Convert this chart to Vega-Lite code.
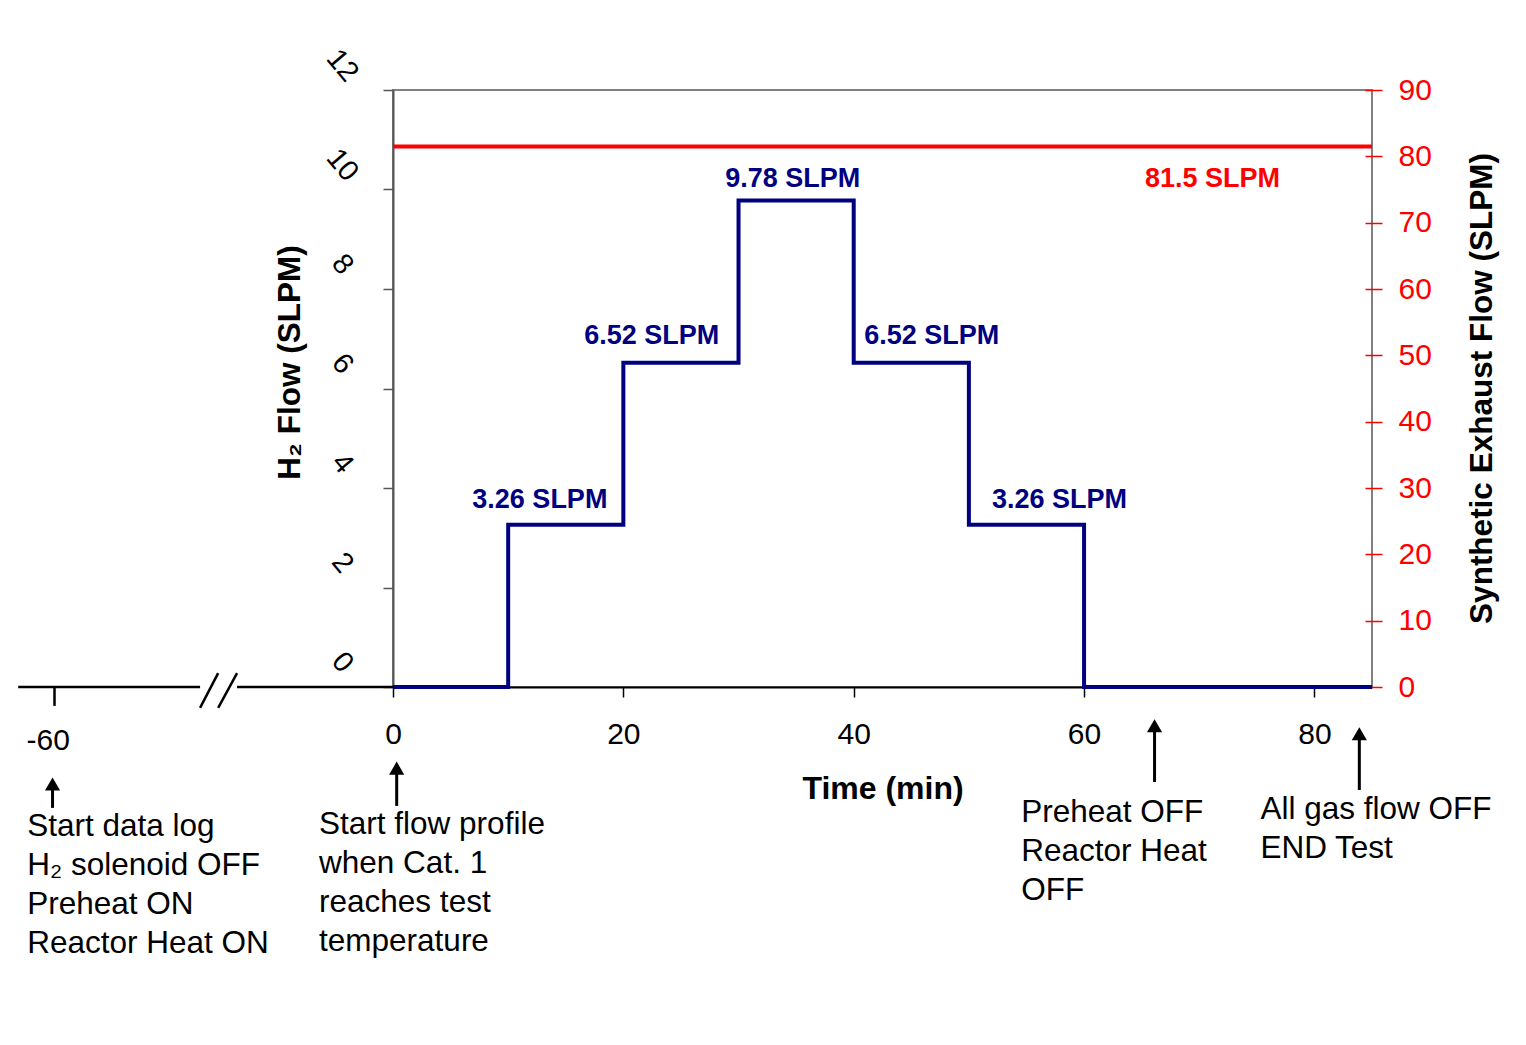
{
  "$schema": "https://vega.github.io/schema/vega-lite/v6.json",
  "width": 979,
  "height": 597,
  "autosize": {"type": "none"},
  "padding": {"left": 393, "top": 90, "right": 154, "bottom": 358},
  "background": "white",
  "config": {
    "font": "Liberation Sans",
    "view": {"stroke": "#808080", "strokeWidth": 2},
    "axis": {"grid": false, "labelFont": "Liberation Sans", "titleFont": "Liberation Sans", "labelOverlap": false, "labelBound": false, "labelFlush": false}
  },
  "datasets": {
    "h2": [
      {"t": 0, "h2": 0}, {"t": 10, "h2": 3.26}, {"t": 20, "h2": 6.52}, {"t": 30, "h2": 9.78},
      {"t": 40, "h2": 6.52}, {"t": 50, "h2": 3.26}, {"t": 60, "h2": 0}, {"t": 85, "h2": 0}
    ],
    "exhaust": [{"t": 0, "exhaust": 81.5}, {"t": 85, "exhaust": 81.5}],
    "blueLabels": [
      {"t": 12.75, "h2": 3.76, "label": "3.26 SLPM"},
      {"t": 22.47, "h2": 7.06, "label": "6.52 SLPM"},
      {"t": 34.71, "h2": 10.21, "label": "9.78 SLPM"},
      {"t": 46.77, "h2": 7.06, "label": "6.52 SLPM"},
      {"t": 57.87, "h2": 3.76, "label": "3.26 SLPM"}
    ],
    "redLabels": [{"t": 71.15, "h2": 10.21, "label": "81.5 SLPM"}],
    "axisExt": [
      {"t": -32.54, "t2": -16.75, "h2": 0, "h2b": 0},
      {"t": -13.54, "t2": 0, "h2": 0, "h2b": 0},
      {"t": -16.75, "t2": -15.18, "h2": -0.42, "h2b": 0.28},
      {"t": -15.18, "t2": -13.54, "h2": -0.42, "h2b": 0.28},
      {"t": -29.39, "t2": -29.39, "h2": 0, "h2b": -0.38}
    ],
    "extLabels": [{"t": -29.93, "h2": -1.085, "label": "-60"}],
    "notes": [
      {"t": -31.76, "h2": -3.0, "label": "Start data log\nH₂ solenoid OFF\nPreheat ON\nReactor Heat ON"},
      {"t": -6.42, "h2": -2.955, "label": "Start flow profile\nwhen Cat. 1\nreaches test\ntemperature"},
      {"t": 54.54, "h2": -2.71, "label": "Preheat OFF\nReactor Heat\nOFF"},
      {"t": 75.31, "h2": -2.65, "label": "All gas flow OFF\nEND Test"}
    ],
    "arrows": [
      {"t": -29.56, "top": -1.95, "bottom": -2.43},
      {"t": 0.32, "top": -1.63, "bottom": -2.39},
      {"t": 66.12, "top": -0.78, "bottom": -1.91},
      {"t": 83.9, "top": -0.94, "bottom": -2.07}
    ]
  },
  "layer": [
    {
      "layer": [
        {
          "data": {"name": "h2"},
          "mark": {"type": "line", "interpolate": "step-after", "color": "#000080", "strokeWidth": 4, "clip": false},
          "encoding": {
            "x": {
              "field": "t", "type": "quantitative",
              "scale": {"domain": [0, 85], "nice": false, "zero": false},
              "axis": {
                "values": [0, 20, 40, 60, 80], "domainColor": "black", "domainWidth": 2,
                "tickColor": "black", "tickSize": 10, "tickWidth": 1.5,
                "labelFontSize": 30, "labelColor": "black", "labelPadding": 22,
                "title": "Time (min)", "titleFontSize": 32, "titleFontWeight": "bold", "titleColor": "black",
                "titleY": 101, "titleBaseline": "middle"
              }
            },
            "y": {
              "field": "h2", "type": "quantitative",
              "scale": {"domain": [0, 12], "nice": false},
              "axis": {
                "orient": "left", "values": [0, 2, 4, 6, 8, 10, 12],
                "domainColor": "#555555", "domainWidth": 2,
                "tickColor": "#555555", "tickSize": 10, "tickWidth": 1.5,
                "labelAngle": 50, "labelAlign": "center", "labelBaseline": "middle",
                "labelPadding": 41, "labelOffset": -25, "labelFontSize": 29, "labelColor": "black",
                "title": "H₂ Flow (SLPM)", "titleFontSize": 31.5, "titleFontWeight": "bold", "titleColor": "black",
                "titleAngle": -90, "titleX": -103, "titleY": 272, "titleAlign": "center", "titleBaseline": "middle"
              }
            }
          }
        },
        {
          "data": {"name": "blueLabels"},
          "mark": {"type": "text", "color": "#000080", "fontWeight": "bold", "fontSize": 27, "align": "center", "baseline": "middle"},
          "encoding": {
            "x": {"field": "t", "type": "quantitative"},
            "y": {"field": "h2", "type": "quantitative"},
            "text": {"field": "label"}
          }
        },
        {
          "data": {"name": "redLabels"},
          "mark": {"type": "text", "color": "#ff0000", "fontWeight": "bold", "fontSize": 27, "align": "center", "baseline": "middle"},
          "encoding": {
            "x": {"field": "t", "type": "quantitative"},
            "y": {"field": "h2", "type": "quantitative"},
            "text": {"field": "label"}
          }
        },
        {
          "data": {"name": "axisExt"},
          "mark": {"type": "rule", "color": "black", "strokeWidth": 2.5, "clip": false},
          "encoding": {
            "x": {"field": "t", "type": "quantitative"},
            "x2": {"field": "t2"},
            "y": {"field": "h2", "type": "quantitative"},
            "y2": {"field": "h2b"}
          }
        },
        {
          "data": {"name": "extLabels"},
          "mark": {"type": "text", "color": "black", "fontSize": 30, "align": "center", "baseline": "middle"},
          "encoding": {
            "x": {"field": "t", "type": "quantitative"},
            "y": {"field": "h2", "type": "quantitative"},
            "text": {"field": "label"}
          }
        },
        {
          "data": {"name": "notes"},
          "mark": {"type": "text", "color": "black", "fontSize": 31.5, "align": "left", "baseline": "alphabetic", "lineBreak": "\n", "lineHeight": 39},
          "encoding": {
            "x": {"field": "t", "type": "quantitative"},
            "y": {"field": "h2", "type": "quantitative"},
            "text": {"field": "label"}
          }
        },
        {
          "data": {"name": "arrows"},
          "mark": {"type": "rule", "color": "black", "strokeWidth": 3, "clip": false},
          "encoding": {
            "x": {"field": "t", "type": "quantitative"},
            "y": {"field": "top", "type": "quantitative"},
            "y2": {"field": "bottom"}
          }
        },
        {
          "data": {"name": "arrows"},
          "mark": {"type": "point", "shape": "triangle-up", "filled": true, "color": "black", "size": 230, "opacity": 1},
          "encoding": {
            "x": {"field": "t", "type": "quantitative"},
            "y": {"field": "top", "type": "quantitative"}
          }
        }
      ]
    },
    {
      "layer": [
        {
          "data": {"name": "exhaust"},
          "mark": {"type": "line", "color": "#ff0000", "strokeWidth": 4, "clip": false},
          "encoding": {
            "x": {"field": "t", "type": "quantitative"},
            "y": {
              "field": "exhaust", "type": "quantitative",
              "scale": {"domain": [0, 90], "nice": false},
              "axis": {
                "orient": "right", "values": [0, 10, 20, 30, 40, 50, 60, 70, 80, 90],
                "offset": -7, "domain": false,
                "tickColor": "#ff0000", "tickSize": 17, "tickWidth": 1.5,
                "labelColor": "#ff0000", "labelFontSize": 30, "labelPadding": 16, "labelBaseline": "middle",
                "title": "Synthetic Exhaust Flow (SLPM)", "titleFontSize": 31.5, "titleFontWeight": "bold", "titleColor": "black",
                "titleAngle": -90, "titleX": 117, "titleY": 298, "titleAlign": "center", "titleBaseline": "middle"
              }
            }
          }
        }
      ]
    }
  ],
  "resolve": {"scale": {"y": "independent"}}
}
